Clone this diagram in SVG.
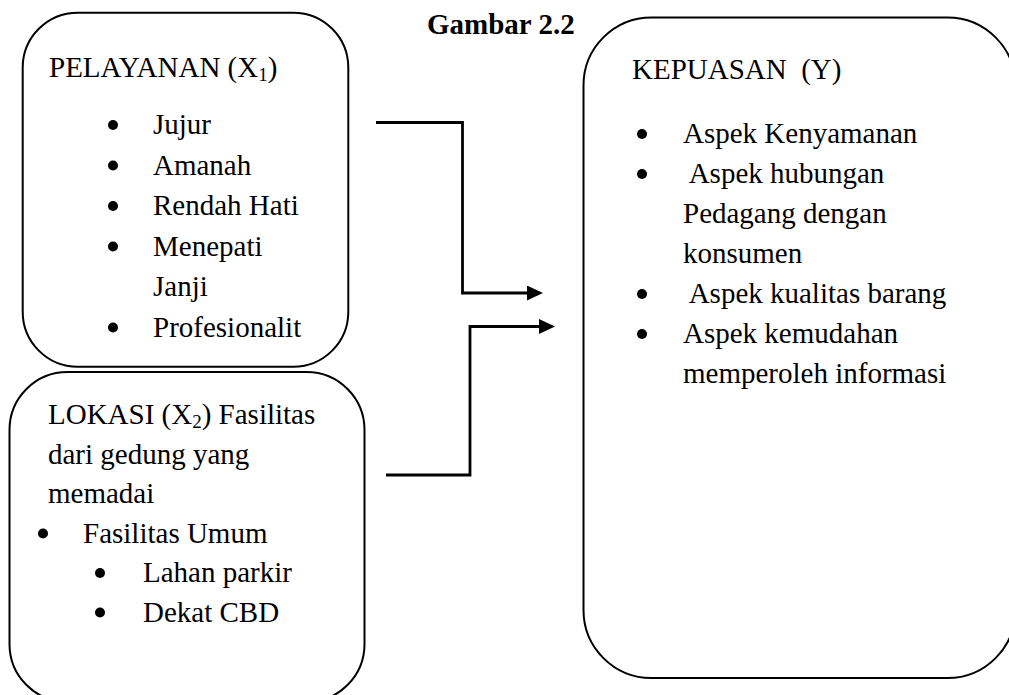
<svg xmlns="http://www.w3.org/2000/svg" width="1009" height="695" viewBox="0 0 1009 695">
<style>
.box{fill:#fff;stroke:#000;stroke-width:2}
.t{font-family:"Liberation Serif","Times New Roman",serif;font-size:29px;fill:#000;white-space:pre}
.title{font-family:"Liberation Serif","Times New Roman",serif;font-size:29px;font-weight:bold;fill:#000}
.sub{font-size:19px}
.conn{fill:none;stroke:#000;stroke-width:2.8}
.dot{fill:#000}
</style>
<defs>
<marker id="arr" markerUnits="userSpaceOnUse" markerWidth="16" markerHeight="15" refX="0" refY="7.5" orient="auto">
<path d="M0,0 L16,7.5 L0,15 Z" fill="#000"/>
</marker>
</defs>
<rect width="1009" height="695" fill="#fff"/>
<text class="title" x="427" y="34">Gambar 2.2</text>
<g id="pelayanan">
<rect class="box" x="22.7" y="12.7" width="325.6" height="354" rx="55" ry="55"/>
<text class="t" x="49" y="77">PELAYANAN (X<tspan class="sub" dy="4">1</tspan><tspan dy="-4">)</tspan></text>
<circle class="dot" cx="113" cy="125" r="5"/><text class="t" x="153" y="134">Jujur</text>
<circle class="dot" cx="113" cy="165.5" r="5"/><text class="t" x="153" y="174.5">Amanah</text>
<circle class="dot" cx="113" cy="206" r="5"/><text class="t" x="153" y="215">Rendah Hati</text>
<circle class="dot" cx="113" cy="246.5" r="5"/><text class="t" x="153" y="255.5">Menepati</text>
<text class="t" x="153" y="296">Janji</text>
<circle class="dot" cx="113" cy="327.5" r="5"/><text class="t" x="153" y="336.5">Profesionalit</text>
</g>
<g id="lokasi">
<rect class="box" x="9.5" y="372" width="355" height="330" rx="58" ry="58"/>
<text class="t" x="48" y="424">LOKASI (X<tspan class="sub" dy="4">2</tspan><tspan dy="-4">) Fasilitas</tspan></text>
<text class="t" x="48" y="463.5">dari gedung yang</text>
<text class="t" x="48" y="503">memadai</text>
<circle class="dot" cx="43" cy="533.5" r="5"/><text class="t" x="83" y="542.5">Fasilitas Umum</text>
<circle class="dot" cx="100" cy="573" r="5"/><text class="t" x="143" y="582">Lahan parkir</text>
<circle class="dot" cx="100" cy="612.5" r="5"/><text class="t" x="143" y="621.5">Dekat CBD</text>
</g>
<g id="kepuasan">
<rect class="box" x="583.5" y="17.5" width="432" height="660.5" rx="68" ry="68"/>
<text class="t" x="632" y="79">KEPUASAN  (Y)</text>
<circle class="dot" cx="642" cy="134" r="5"/><text class="t" x="683" y="143">Aspek Kenyamanan</text>
<circle class="dot" cx="642" cy="174" r="5"/><text class="t" x="683" y="183"> Aspek hubungan</text>
<text class="t" x="683" y="223">Pedagang dengan</text>
<text class="t" x="683" y="263">konsumen</text>
<circle class="dot" cx="642" cy="294" r="5"/><text class="t" x="683" y="303"> Aspek kualitas barang</text>
<circle class="dot" cx="642" cy="334" r="5"/><text class="t" x="683" y="343">Aspek kemudahan</text>
<text class="t" x="683" y="383">memperoleh informasi</text>
</g>
<g id="connectors">
<path class="conn" d="M376,122.5 H462.5 V293 H527" marker-end="url(#arr)"/>
<path class="conn" d="M386,475 H470 V326.5 H539" marker-end="url(#arr)"/>
</g>
</svg>
